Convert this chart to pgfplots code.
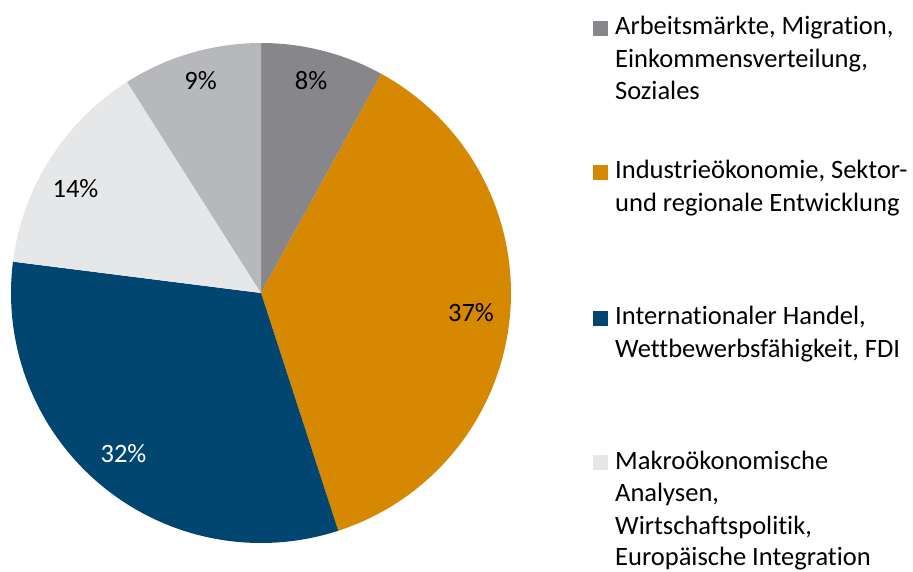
\documentclass[border=0pt]{standalone}
\usepackage{pgfplots}
\usepackage{pgfplotstable}
\pgfplotsset{compat=1.18}
\usepackage{fontspec}
\setmainfont{Carlito}[RawFeature={-liga;-dlig;-clig}]
\definecolor{c0}{HTML}{87868A}
\definecolor{c1}{HTML}{D58800}
\definecolor{c2}{HTML}{004670}
\definecolor{c3}{HTML}{E6E7E9}
\definecolor{c4}{HTML}{B7B8BC}
\pgfplotstableread{
share
8
37
32
14
9
}\piedata
% cumulative angles (start at 12 o'clock, clockwise)
\pgfplotstablegetelem{0}{share}\of\piedata\let\sA\pgfplotsretval
\pgfplotstablegetelem{1}{share}\of\piedata\let\sB\pgfplotsretval
\pgfplotstablegetelem{2}{share}\of\piedata\let\sC\pgfplotsretval
\pgfplotstablegetelem{3}{share}\of\piedata\let\sD\pgfplotsretval
\pgfplotstablegetelem{4}{share}\of\piedata\let\sE\pgfplotsretval
\pgfmathsetmacro\aA{90}
\pgfmathsetmacro\aB{\aA-3.6*\sA}
\pgfmathsetmacro\aC{\aB-3.6*\sB}
\pgfmathsetmacro\aD{\aC-3.6*\sC}
\pgfmathsetmacro\aE{\aD-3.6*\sD}
\pgfmathsetmacro\aF{\aE-3.6*\sE}
\begin{document}
\fontsize{26.5}{32.5}\selectfont
\begin{tikzpicture}
\begin{axis}[
  scale only axis, width=913pt, height=571pt,
  xmin=0, xmax=913, ymin=0, ymax=571,
  enlargelimits=false, hide axis, clip=false,
  every node/.style={font=\fontsize{26.5}{32.5}\selectfont},
]
\addplot[fill=c0, draw=none, domain=\aB:\aA, samples=60] ({261+250*cos(x)},{278+250*sin(x)}) -- (axis cs:261,278) -- cycle;
\addplot[fill=c1, draw=none, domain=\aC:\aB, samples=120] ({261+250*cos(x)},{278+250*sin(x)}) -- (axis cs:261,278) -- cycle;
\addplot[fill=c2, draw=none, domain=\aD:\aC, samples=120] ({261+250*cos(x)},{278+250*sin(x)}) -- (axis cs:261,278) -- cycle;
\addplot[fill=c3, draw=none, domain=\aE:\aD, samples=60] ({261+250*cos(x)},{278+250*sin(x)}) -- (axis cs:261,278) -- cycle;
\addplot[fill=c4, draw=none, domain=\aF:\aE, samples=60] ({261+250*cos(x)},{278+250*sin(x)}) -- (axis cs:261,278) -- cycle;
% percentage labels
\node[anchor=base] at (axis cs:311,481) {8\%};
\node[anchor=base] at (axis cs:471,249) {37\%};
\node[anchor=base, text=white] at (axis cs:123.5,109) {32\%};
\node[anchor=base] at (axis cs:75.5,373) {14\%};
\node[anchor=base] at (axis cs:200.5,481) {9\%};
% legend squares
\addplot[only marks, mark=square*, mark size=7pt, c0] coordinates {(600.3,543)};
\addplot[only marks, mark=square*, mark size=7pt, c1] coordinates {(600.3,399)};
\addplot[only marks, mark=square*, mark size=7pt, c2] coordinates {(600.3,253)};
\addplot[only marks, mark=square*, mark size=7pt, c3] coordinates {(600.3,109)};
% legend text
\node[anchor=base west, inner sep=0pt] at (axis cs:615,536) {Arbeitsmärkte, Migration,};
\node[anchor=base west, inner sep=0pt] at (axis cs:615,503.5) {Einkommensverteilung,};
\node[anchor=base west, inner sep=0pt] at (axis cs:615,471) {Soziales};
\node[anchor=base west, inner sep=0pt] at (axis cs:615,392) {Industrieökonomie, Sektor-};
\node[anchor=base west, inner sep=0pt] at (axis cs:615,359.5) {und regionale Entwicklung};
\node[anchor=base west, inner sep=0pt] at (axis cs:615,246) {Internationaler Handel,};
\node[anchor=base west, inner sep=0pt] at (axis cs:615,213.5) {Wettbewerbsfähigkeit, FDI};
\node[anchor=base west, inner sep=0pt] at (axis cs:615,102) {Makroökonomische};
\node[anchor=base west, inner sep=0pt] at (axis cs:615,69.5) {Analysen,};
\node[anchor=base west, inner sep=0pt] at (axis cs:615,37) {Wirtschaftspolitik,};
\node[anchor=base west, inner sep=0pt] at (axis cs:615,5.5) {Europäische Integration};
\end{axis}
\pgfresetboundingbox
\path[use as bounding box] (0,0) rectangle (913pt,571pt);
\end{tikzpicture}
\end{document}
